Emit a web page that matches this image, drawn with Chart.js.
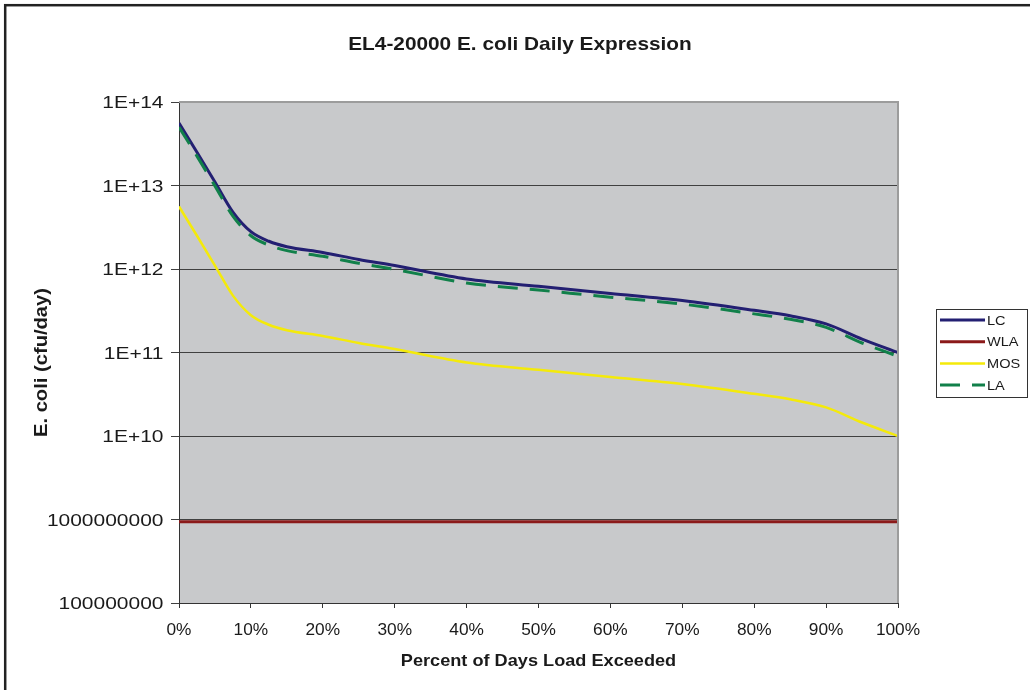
<!DOCTYPE html>
<html>
<head>
<meta charset="utf-8">
<script src="https://cdn.jsdelivr.net/npm/chart.js@4/dist/chart.umd.min.js"></script>
<style>
  html, body { margin: 0; padding: 0; background: #ffffff; }
  #wrap { position: relative; width: 1030px; height: 690px; overflow: hidden; }
</style>
</head>
<body>
<div id="wrap"><canvas id="chart" width="1030" height="690"></canvas></div>
<script>
// ============================================================
// Data
// ============================================================

const pct = [0, 2.5, 5, 7.5, 10, 12.5, 15, 20, 25, 30, 40, 50, 60, 70, 80, 85, 90, 95, 100];

const lcLoad  = [5.6e13, 2.5e13, 1.1e13, 4.8e12, 2.8e12, 2.15e12, 1.85e12, 1.58e12, 1.3e12, 1.1e12,
                 7.6e11, 6.2e11, 5.1e11, 4.2e11, 3.2e11, 2.75e11, 2.2e11, 1.45e11, 1.0e11];
const wlaLoad = [9.4e8, 9.4e8, 9.4e8, 9.4e8, 9.4e8, 9.4e8, 9.4e8, 9.4e8, 9.4e8, 9.4e8,
                 9.4e8, 9.4e8, 9.4e8, 9.4e8, 9.4e8, 9.4e8, 9.4e8, 9.4e8, 9.4e8];
const mosLoad = [5.6e12, 2.5e12, 1.1e12, 4.8e11, 2.8e11, 2.15e11, 1.85e11, 1.58e11, 1.3e11, 1.1e11,
                 7.6e10, 6.2e10, 5.1e10, 4.2e10, 3.2e10, 2.75e10, 2.2e10, 1.45e10, 1.0e10];
const laLoad  = [5.0e13, 2.25e13, 9.9e12, 4.3e12, 2.5e12, 1.93e12, 1.66e12, 1.42e12, 1.17e12, 9.9e11,
                 6.8e11, 5.6e11, 4.6e11, 3.8e11, 2.9e11, 2.5e11, 2.0e11, 1.3e11, 9.0e10];

const seriesNames = ["LC", "WLA", "MOS", "LA"];

const yTickValues = [1e8, 1e9, 1e10, 1e11, 1e12, 1e13, 1e14];
const yTickLabels = ["100000000", "1000000000", "1E+10", "1E+11", "1E+12", "1E+13", "1E+14"];
const xTickValues = [0, 10, 20, 30, 40, 50, 60, 70, 80, 90, 100];
const xTickLabels = ["0%", "10%", "20%", "30%", "40%", "50%", "60%", "70%", "80%", "90%", "100%"];

const chartTitle = "EL4-20000 E. coli Daily Expression";
const xTitle = "Percent of Days Load Exceeded";
const yTitle = "E. coli (cfu/day)";

// ============================================================
// Helpers
// ============================================================

const TXT = "#1a1a1a";
const FONT = "'Liberation Sans', Arial, sans-serif";

function points(ys) {
    return pct.map((p, i) => ({ x: p, y: ys[i] }));
}

function drawText(ctx, text, x, y, font, align, sx, rot) {
    ctx.save();
    ctx.translate(x, y);
    if (rot) ctx.rotate(rot);
    ctx.scale(sx, 1);
    ctx.font = font;
    ctx.fillStyle = TXT;
    ctx.textAlign = align;
    ctx.textBaseline = "alphabetic";
    ctx.fillText(text, 0, 0);
    ctx.restore();
}

// ============================================================
// Plugin : background, frame, texts, legend
// ============================================================

const decor = {
    id: "decor",
    beforeDraw(chart) {
        const ctx = chart.ctx;
        const a = chart.chartArea;
        ctx.save();
        ctx.fillStyle = "#ffffff";
        ctx.fillRect(0, 0, chart.width, chart.height);
        ctx.fillStyle = "#c8c9cb";
        ctx.fillRect(a.left, a.top, a.right - a.left, a.bottom - a.top);
        ctx.restore();
    },
    afterDraw(chart) {
        const ctx = chart.ctx;
        const a = chart.chartArea;
        const xs = chart.scales.x;
        const ys = chart.scales.y;

        ctx.save();
        // plot area top / right edge
        ctx.strokeStyle = "#9c9c9c";
        ctx.lineWidth = 2;
        ctx.beginPath();
        ctx.moveTo(a.left, a.top);
        ctx.lineTo(a.right, a.top);
        ctx.lineTo(a.right, a.bottom);
        ctx.stroke();

        // outer chart frame (runs off the right / bottom)
        ctx.strokeStyle = "#222222";
        ctx.lineWidth = 2.5;
        ctx.strokeRect(5.2, 5.2, 1200, 900);
        ctx.restore();

        // titles
        drawText(ctx, chartTitle, 520, 50, "bold 18.5px " + FONT, "center", 1.125, 0);
        drawText(ctx, xTitle, 538.5, 666, "bold 16.5px " + FONT, "center", 1.1, 0);
        drawText(ctx, yTitle, 47, 362.5, "bold 18.5px " + FONT, "center", 1.09, -Math.PI / 2);

        // tick labels
        yTickValues.forEach((v, i) => {
            const py = ys.getPixelForValue(v);
            drawText(ctx, yTickLabels[i], 163.5, py + 6.2, "17.2px " + FONT, "right", 1.22, 0);
        });
        xTickValues.forEach((v, i) => {
            const px = xs.getPixelForValue(v);
            drawText(ctx, xTickLabels[i], px, 635, "17.3px " + FONT, "center", 1.0, 0);
        });

        // legend
        const lx = 936, ly = 309, lw = 91, lh = 88;
        ctx.save();
        ctx.fillStyle = "#ffffff";
        ctx.fillRect(lx, ly, lw, lh);
        ctx.strokeStyle = "#333333";
        ctx.lineWidth = 1;
        ctx.strokeRect(lx + 0.5, ly + 0.5, lw, lh);
        chart.data.datasets.forEach((ds, i) => {
            const y = 320 + i * 21.7;
            ctx.strokeStyle = ds.borderColor;
            ctx.lineWidth = ds.borderWidth;
            ctx.setLineDash(ds.borderDash || []);
            ctx.beginPath();
            ctx.moveTo(940, y);
            ctx.lineTo(985, y);
            ctx.stroke();
            ctx.setLineDash([]);
            drawText(ctx, seriesNames[i], 987, y + 4.6, "13px " + FONT, "left", 1.12, 0);
        });
        ctx.restore();
    }
};

// ============================================================
// Chart
// ============================================================

const ctx = document.getElementById("chart").getContext("2d");

new Chart(ctx, {
    type: "line",
    data: {
        datasets: [
            { label: seriesNames[0], data: points(lcLoad),  borderColor: "#231f72", borderWidth: 3,   order: 4 },
            { label: seriesNames[1], data: points(wlaLoad), borderColor: "#8b1a1a", borderWidth: 3,   order: 3 },
            { label: seriesNames[2], data: points(mosLoad), borderColor: "#f4ea0a", borderWidth: 2.5, order: 2 },
            { label: seriesNames[3], data: points(laLoad),  borderColor: "#11804a", borderWidth: 3,   order: 1,
              borderDash: [20, 12] }
        ]
    },
    options: {
        responsive: false,
        devicePixelRatio: 1,
        animation: false,
        parsing: true,
        elements: {
            point: { radius: 0 },
            line: { cubicInterpolationMode: "monotone", fill: false }
        },
        layout: { padding: { top: 102, right: 132, left: 0, bottom: 0 } },
        plugins: {
            legend: { display: false },
            title: { display: false },
            tooltip: { enabled: false }
        },
        scales: {
            x: {
                type: "linear",
                min: 0,
                max: 100,
                afterBuildTicks: s => { s.ticks = xTickValues.map(v => ({ value: v })); },
                afterFit: s => { s.height = 87; },
                ticks: { display: false },
                grid: { drawOnChartArea: false, drawTicks: true, tickLength: 5, color: "#333333" },
                border: { display: true, color: "#333333", width: 1 }
            },
            y: {
                type: "logarithmic",
                min: 1e8,
                max: 1e14,
                afterBuildTicks: s => { s.ticks = yTickValues.map(v => ({ value: v })); },
                afterFit: s => { s.width = 179; },
                ticks: { display: false },
                grid: { color: "#404040", lineWidth: 1, drawTicks: true, tickLength: 8 },
                border: { display: true, color: "#333333", width: 1 }
            }
        }
    },
    plugins: [decor]
});
</script>
</body>
</html>
